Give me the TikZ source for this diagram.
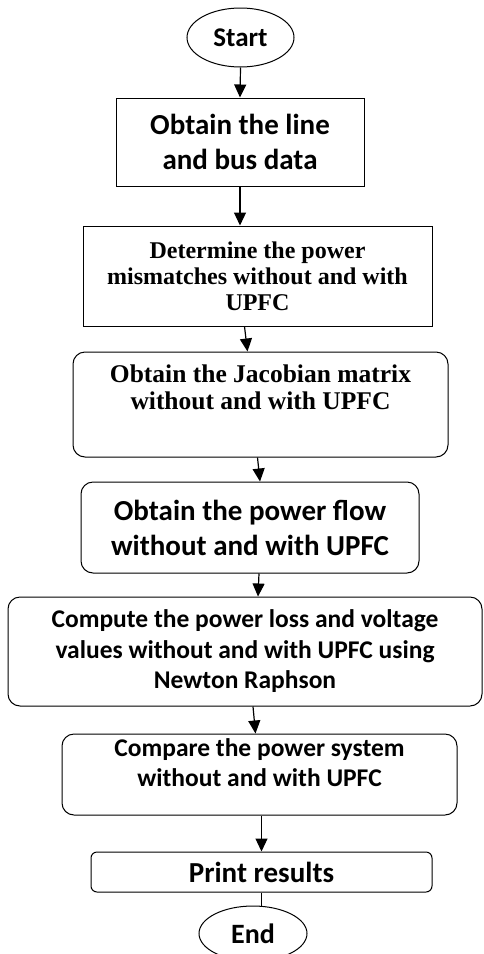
\documentclass[tikz,border=0pt]{standalone}
\usepackage{fontspec}
\setmainfont{Carlito}
\newfontfamily\tnr{Liberation Serif}
\usepackage{tikz}
\usetikzlibrary{arrows.meta,positioning,shapes.geometric}

\begin{document}
\begin{tikzpicture}[
  x=1pt, y=-1pt,
  font=\bfseries,
  term/.style={draw, ellipse, inner sep=0pt, fill=white, line width=1pt},
  box/.style={draw, align=center, inner sep=2pt, fill=white, line width=1pt},
  rbox/.style={box, rounded corners=12pt},
  ar/.style={-{Triangle[length=13pt, width=12pt]}, line width=1.2pt},
  ln/.style={line width=1.2pt}
]
\useasboundingbox (0,0) rectangle (483,954);

% --- terminals and steps ------------------------------------------------
\node[term, minimum width=107pt, minimum height=59pt,
      font=\bfseries\fontsize{27}{32}\selectfont] (start) at (240.5,37.5) {Start};
\node[box, minimum width=248pt, minimum height=88pt,
      font=\bfseries\fontsize{29}{35}\selectfont,
      below=30pt of start, xshift=-0.5pt] (data) {Obtain the line\\and bus data};
\node[box, minimum width=349pt, minimum height=100pt,
      font=\tnr\bfseries\fontsize{24}{26}\selectfont,
      below=39pt of data, xshift=17.5pt] (mism)
     {Determine the power\\mismatches without and with\\UPFC};
\node[rbox, minimum width=375pt, minimum height=105pt,
      font=\tnr\bfseries\fontsize{25.5}{27}\selectfont,
      below=25pt of mism, xshift=3pt] (jac)
     {Obtain the Jacobian matrix\\without and with UPFC\\\strut};
\node[rbox, minimum width=338pt, minimum height=91pt,
      font=\bfseries\fontsize{29}{35}\selectfont,
      below=24pt of jac, xshift=-10.5pt] (flow)
     {Obtain the power flow\\without and with UPFC};
\node[rbox, minimum width=474pt, minimum height=109pt,
      font=\bfseries\fontsize{25.5}{30.5}\selectfont,
      below=23pt of flow, xshift=-5pt] (loss)
     {Compute the power loss and voltage\\values without and with UPFC using\\Newton Raphson};
\node[rbox, minimum width=395pt, minimum height=81pt,
      font=\bfseries\fontsize{25.5}{30}\selectfont,
      below=27pt of loss, xshift=14.5pt] (comp)
     {Compare the power system\\without and with UPFC\\[-16pt]\strut};
\node[box, rounded corners=6pt, minimum width=341pt, minimum height=40pt,
      font=\bfseries\fontsize{29}{35}\selectfont,
      below=36pt of comp, xshift=2pt] (prnt) {Print results};
\node[term, minimum width=108pt, minimum height=55pt,
      font=\bfseries\fontsize{28}{33}\selectfont,
      below=13pt of prnt, xshift=-8.5pt] (stop) {End};

% --- connectors -----------------------------------------------------------
\draw[ar] (start.south) -- (data.north);
\draw[ar] (data.south) -- (data.south |- mism.north);
\draw[ar] ([xshift=-13pt]mism.south) -- ([xshift=-13pt]jac.north);
\draw[ar] ([xshift=-3pt]jac.south) -- ([xshift=10pt]flow.north);
\draw[ar] ([xshift=9pt]flow.south) -- ([xshift=13pt]loss.north);
\draw[ar] ([xshift=8pt]loss.south) -- ([xshift=-4pt]comp.north);
\draw[ar] ([xshift=2pt]comp.south) -- (prnt.north);
\draw[ln] (prnt.south) -- (prnt.south |- stop.north);

\end{tikzpicture}
\end{document}
